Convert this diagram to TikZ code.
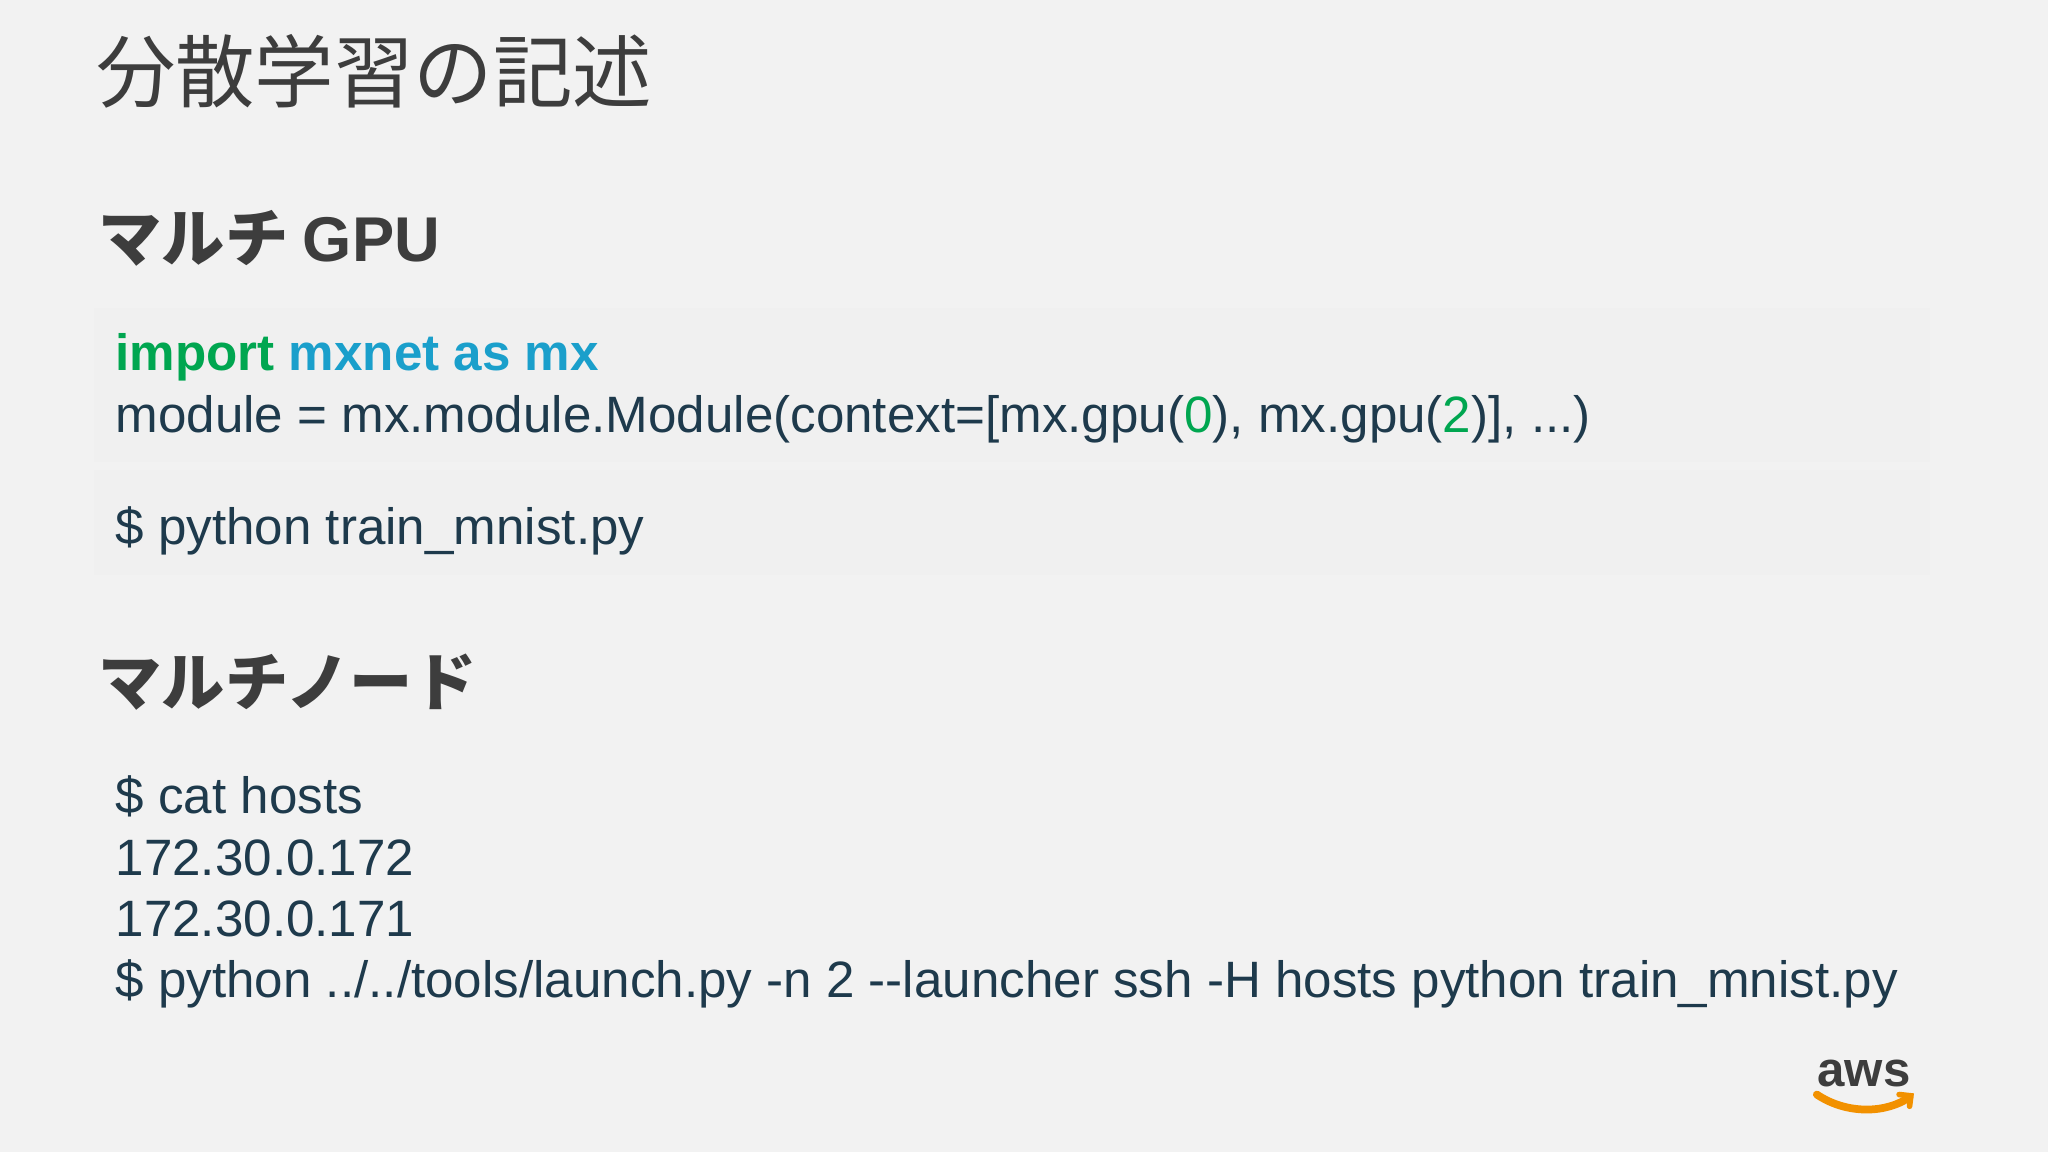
\documentclass[tikz,border=0pt]{standalone}
\usepackage{fontspec}
\setmainfont{Liberation Sans}
\newfontfamily\cjk{Noto Sans CJK JP}
\definecolor{bgc}{HTML}{F2F2F2}
\definecolor{boxc}{HTML}{F0F0F0}
\definecolor{codec}{HTML}{1E3A4C}
\definecolor{grn}{HTML}{00A650}
\definecolor{blu}{HTML}{1A9FCB}
\definecolor{hdc}{HTML}{3D3D3D}
\definecolor{awsor}{HTML}{F29100}
\begin{document}
\begin{tikzpicture}[x=0.013061cm,y=-0.013061cm,
  code/.style={anchor=base west,inner sep=0pt,text=codec,font=\fontsize{14.55}{18}\selectfont},
  head/.style={anchor=base west,inner sep=0pt,text=hdc,font=\cjk\bfseries\fontsize{18}{22}\selectfont},
  boxst/.style={fill=boxc,draw=none}]
\fill[bgc] (0,0) rectangle (1568,882);
\useasboundingbox (0,0) rectangle (1568,882);
\node[anchor=base west,inner sep=0pt,text=hdc,font=\cjk\fontsize{22.6}{26}\selectfont] (title) at (73,78) {分散学習の記述};
\node[head] (h1) at (75,200) {マルチ \fontspec{Liberation Sans}\bfseries GPU};
\fill[boxst] (72,236) rectangle (1478,354);
\fill[boxst] (72,360) rectangle (1478,440);
\node[code] (c1) at (88,284) {\bfseries\textcolor{grn}{import} \textcolor{blu}{mxnet as mx}};
\node[code] (c2) at (88,331) {module = mx.module.Module(context=[mx.gpu(\textcolor{grn}{0}), mx.gpu(\textcolor{grn}{2})], ...)};
\node[code] (c3) at (88,417) {\$ python train\_mnist.py};
\node[head] (h2) at (75,540) {マルチノード};
\node[code] (d1) at (88,623) {\$ cat hosts};
\node[code] (d2) at (88,670) {172.30.0.172};
\node[code] (d3) at (88,717) {172.30.0.171};
\node[code] (d4) at (88,764) {\$ python ../../tools/launch.py -n 2 {-}{-}launcher ssh -H hosts python train\_mnist.py};
\node[anchor=base west,inner sep=0pt,text=hdc,font=\bfseries\fontsize{14}{14}\selectfont] (aws) at (1391,832) {aws};
\draw[awsor,line width=2.2pt,line cap=round] (1391,838) .. controls (1415,854) and (1445,852) .. (1462,840);
\draw[awsor,line width=1.6pt,line cap=round] (1454,838) -- (1463,839) -- (1462,847);
\end{tikzpicture}
\end{document}
